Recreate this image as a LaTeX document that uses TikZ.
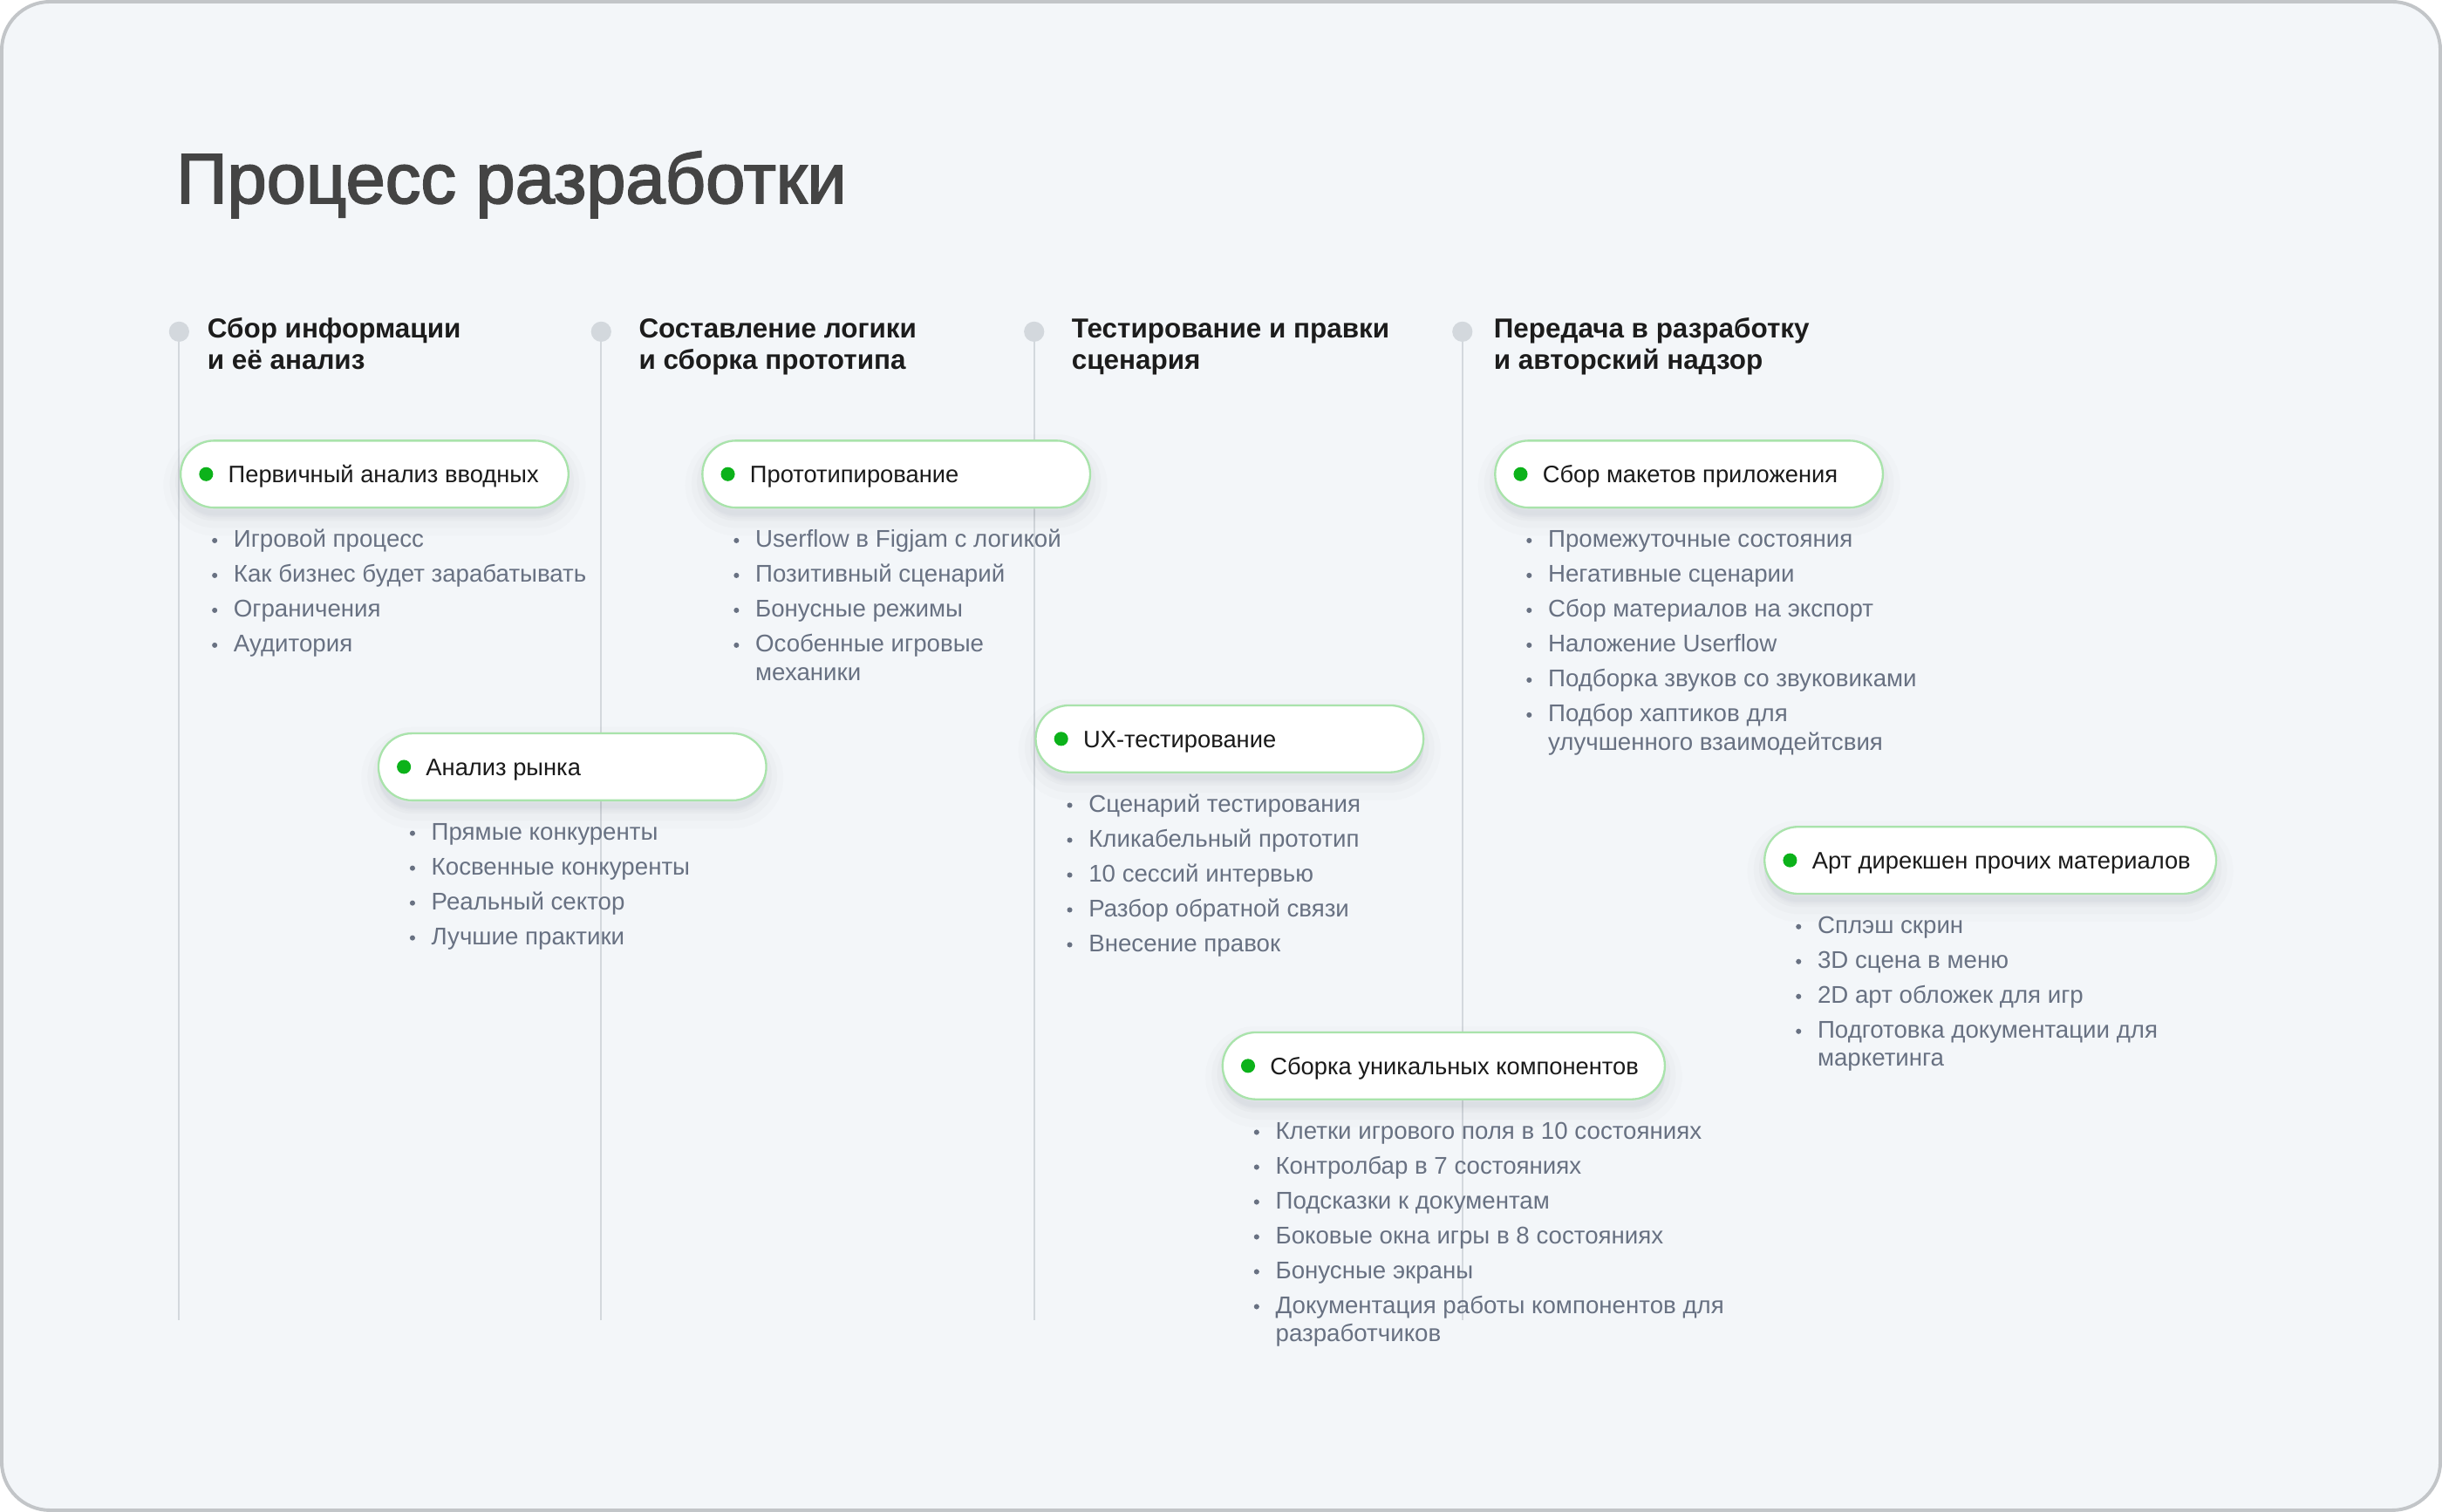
\documentclass[tikz,border=0pt]{standalone}
\usepackage{fontspec}
\setmainfont{Liberation Sans}
\newfontfamily\titlefont[FakeBold=2.2]{Liberation Sans}
\usepackage{tikz}
\usetikzlibrary{calc}

\definecolor{bgfill}{HTML}{F3F6F9}
\definecolor{framegrey}{HTML}{C2C5C8}
\definecolor{titlegrey}{HTML}{444444}
\definecolor{headblack}{HTML}{1C1C1C}
\definecolor{pillblack}{HTML}{1A1A1A}
\definecolor{itemgrey}{HTML}{687182}
\definecolor{pillgreen}{HTML}{A9E3AB}
\definecolor{dotgreen}{HTML}{0CB21A}
\definecolor{railgrey}{HTML}{D3D8DD}
\definecolor{shadowgrey}{HTML}{5A6470}

% pill: name, x, y, width, label
\newcommand\stagepill[5]{
	\node[pill, minimum width=#4pt] (#1) at (#2,#3) {};
	\node[pilldot] (#1d) at ([xshift=17pt]#1.west) {};
	\node[pilllabel] (#1t) at ([xshift=31pt,yshift=-5.5pt]#1.west) {#5};
}
% bullets under a pill
\newcommand\itemlist[2]{
	\foreach \t [count=\i] in {#2} {
		\pgfmathsetmacro\itemdy{25+(\i-1)*22.4}
		\node[itemtext] (#1-\i) at ([xshift=34.5pt,yshift=-\itemdy pt]#1.south west) {\t};
		\fill[itemgrey] ([xshift=-12pt,yshift=4.5pt]#1-\i.base west) circle (1.7pt);
	}
}

\begin{document}
\begin{tikzpicture}[x=1pt, y=-1pt,
		rail/.style={draw=railgrey, line width=1.2pt},
		stagedot/.style={circle, fill=railgrey, minimum size=13pt, inner sep=0pt},
		stagehead/.style={anchor=base west, inner sep=0pt, align=left, text=headblack, font=\bfseries\fontsize{17.6}{20}\selectfont},
		pill/.style={draw=pillgreen, line width=1.3pt, fill=white, rounded corners=21.5pt, minimum height=43pt, inner sep=0pt,
			preaction={draw=shadowgrey, fill=shadowgrey, line width=22pt, opacity=0.018, transform canvas={yshift=-7pt}},
			preaction={draw=shadowgrey, fill=shadowgrey, line width=14pt, opacity=0.022, transform canvas={yshift=-6pt}},
			preaction={draw=shadowgrey, fill=shadowgrey, line width=7pt, opacity=0.03, transform canvas={yshift=-5pt}}},
		pilldot/.style={circle, fill=dotgreen, minimum size=9pt, inner sep=0pt},
		pilllabel/.style={anchor=base west, inner sep=0pt, text=pillblack, font=\fontsize{15.3}{18}\selectfont},
		itemtext/.style={anchor=base west, inner sep=0pt, text=itemgrey, font=\fontsize{15.5}{18}\selectfont}]
			%%%%% START %%%%%
			
			\useasboundingbox (0,0) rectangle (1568,971);
			\draw[fill=bgfill, draw=framegrey, line width=2.2pt, rounded corners=31pt] (1.1,1.1) rectangle (1566.9,969.9);
			
			\node[anchor=base west, inner sep=0pt, text=titlegrey, font=\titlefont\fontsize{45.5}{54}\selectfont] (title) at (113,130.5) {Процесс разработки};
			
			% timeline rails
			\foreach \x [count=\k] in {115,386,664,939} {
				\coordinate (r\k) at (\x,848);
				\node[stagedot] (s\k) at (\x,213) {};
				\draw[rail] (s\k) -- (r\k);
			}
			
			% base of a two-line head is its second line
			\node[stagehead] (h1) at (133,237) {Сбор информации\\и её анализ};
			\node[stagehead] (h2) at (410,237) {Составление логики\\и сборка прототипа};
			\node[stagehead] (h3) at (688,237) {Тестирование и правки\\сценария};
			\node[stagehead] (h4) at (959,237) {Передача в разработку\\и авторский надзор};
			
			% pills
			\stagepill{p1}{240.5}{304.5}{249}{Первичный анализ вводных}
			\stagepill{p2}{575.5}{304.5}{249}{Прототипирование}
			\stagepill{p3}{1084.5}{304.5}{249}{Сбор макетов приложения}
			\stagepill{p4}{367.5}{492.5}{249}{Анализ рынка}
			\stagepill{p5}{789.5}{474.5}{249}{UX-тестирование}
			\stagepill{p6}{1278}{552.5}{290}{Арт дирекшен прочих материалов}
			\stagepill{p7}{927}{684.5}{284}{Сборка уникальных компонентов}
			
			% lists
			\itemlist{p1}{Игровой процесс, Как бизнес будет зарабатывать, Ограничения, Аудитория}
			\itemlist{p2}{Userflow в Figjam с логикой, Позитивный сценарий, Бонусные режимы, Особенные игровые}
			\node[itemtext] (p2-4b) at ([yshift=-18pt]p2-4.base west) {механики};
			\itemlist{p3}{Промежуточные состояния, Негативные сценарии, Сбор материалов на экспорт, Наложение Userflow, Подборка звуков со звуковиками, Подбор хаптиков для}
			\node[itemtext] (p3-6b) at ([yshift=-18pt]p3-6.base west) {улучшенного взаимодейтсвия};
			\itemlist{p4}{Прямые конкуренты, Косвенные конкуренты, Реальный сектор, Лучшие практики}
			\itemlist{p5}{Сценарий тестирования, Кликабельный прототип, 10 сессий интервью, Разбор обратной связи, Внесение правок}
			\itemlist{p6}{Сплэш скрин, 3D сцена в меню, 2D арт обложек для игр, Подготовка документации для}
			\node[itemtext] (p6-4b) at ([yshift=-18pt]p6-4.base west) {маркетинга};
			\itemlist{p7}{Клетки игрового поля в 10 состояниях, Контролбар в 7 состояниях, Подсказки к документам, Боковые окна игры в 8 состояниях, Бонусные экраны, Документация работы компонентов для}
			\node[itemtext] (p7-6b) at ([yshift=-18pt]p7-6.base west) {разработчиков};
			
			%%%%% END %%%%%
\end{tikzpicture}
\end{document}
